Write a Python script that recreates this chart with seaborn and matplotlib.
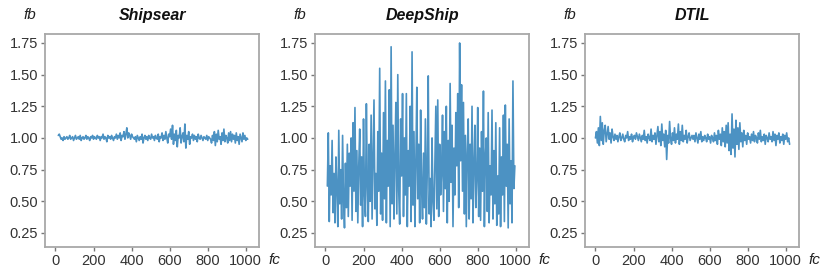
import numpy as np
import pandas as pd
import matplotlib
matplotlib.use('Agg')
import matplotlib.pyplot as plt
import seaborn as sns

## panel titles
titles = ['Shipsear', 'DeepShip', 'DTIL']

## fb values, one list per dataset
shipsear_fb = [
    1.02, 1.03, 1.01, 0.99, 1.00, 0.98, 1.01, 0.99, 1.00, 1.01, 0.99, 1.00, 1.02, 0.99, 1.00, 1.01, 0.98, 1.00, 1.02, 0.99,
    1.00, 1.01, 0.99, 1.02, 0.98, 1.00, 1.01, 0.99, 1.00, 1.02, 0.99, 1.01, 1.00, 0.98, 1.01, 1.00, 1.02, 0.99, 1.01, 1.00,
    0.99, 1.02, 1.00, 1.01, 0.98, 1.01, 1.00, 1.03, 0.99, 1.01, 1.00, 0.97, 1.02, 1.00, 1.01, 0.99, 1.02, 1.00, 0.98, 1.01,
    1.00, 1.03, 0.99, 1.02, 1.00, 1.04, 0.98, 1.02, 1.01, 1.05, 0.99, 1.03, 1.08, 1.00, 1.04, 1.02, 0.99, 1.03, 1.01, 1.00,
    0.99, 1.01, 0.97, 1.02, 1.00, 0.98, 1.01, 0.99, 1.03, 0.96, 1.00, 1.02, 0.99, 1.01, 0.98, 1.02, 1.00, 0.99, 1.03, 1.00,
    1.01, 0.98, 1.02, 1.00, 0.99, 1.03, 0.97, 1.01, 1.00, 1.04, 0.98, 1.02, 0.99, 1.05, 1.00, 0.96, 1.03, 1.01, 1.07, 0.99,
    1.10, 0.95, 1.03, 0.98, 1.06, 0.93, 1.02, 1.00, 1.08, 0.96, 1.01, 1.04, 0.97, 1.11, 0.92, 1.02, 0.99, 1.05, 0.95, 1.01,
    1.00, 1.03, 0.98, 1.02, 0.99, 1.01, 0.97, 1.03, 1.00, 0.99, 1.02, 1.00, 0.98, 1.01, 1.00, 0.99, 1.02, 0.98, 1.01, 1.00,
    0.99, 0.96, 1.02, 0.98, 1.05, 0.94, 1.03, 0.97, 1.06, 0.99, 1.01, 0.95, 1.04, 0.98, 1.07, 0.97, 1.02, 1.00, 0.96, 1.04,
    0.98, 1.05, 0.97, 1.03, 0.99, 1.02, 0.96, 1.04, 0.98, 1.01, 0.95, 1.03, 1.00, 0.97, 1.04, 0.99, 1.02, 0.98, 1.00, 0.99,
]

deepship_fb = [
    0.62, 1.04, 0.34, 0.78, 0.55, 0.98, 0.41, 0.72, 0.33, 0.85, 0.60, 0.30, 1.06, 0.48, 0.75, 0.36, 1.02, 0.52, 0.29, 0.80,
    0.45, 0.95, 0.38, 0.88, 0.62, 1.00, 0.35, 1.12, 0.58, 1.24, 0.42, 0.90, 0.33, 0.78, 1.07, 0.47, 0.85, 0.30, 1.15, 0.55,
    0.38, 1.27, 0.62, 0.34, 0.95, 0.50, 1.18, 0.36, 0.82, 1.30, 0.44, 0.72, 0.31, 1.05, 0.58, 1.55, 0.40, 0.88, 0.35, 1.20,
    0.52, 1.45, 0.33, 0.98, 0.62, 1.38, 0.30, 1.72, 0.48, 1.10, 0.36, 0.85, 1.28, 0.40, 1.50, 0.58, 0.32, 1.15, 0.70, 1.35,
    0.38, 1.00, 0.55, 1.35, 0.30, 0.90, 0.62, 1.25, 0.34, 1.68, 0.47, 1.05, 0.30, 0.80, 1.40, 0.52, 0.95, 0.33, 1.22, 0.60,
    0.36, 0.88, 0.45, 1.15, 0.32, 0.75, 1.49, 0.40, 0.68, 0.30, 1.00, 0.50, 0.35, 0.82, 1.25, 0.44, 1.30, 0.38, 0.95, 0.55,
    0.72, 1.18, 0.42, 1.05, 0.60, 1.25, 0.33, 0.98, 0.50, 1.43, 0.65, 1.10, 0.30, 0.92, 0.55, 1.20, 0.78, 1.35, 0.45, 1.75,
    0.82, 1.42, 0.58, 1.28, 0.40, 1.02, 0.30, 0.88, 1.15, 0.36, 0.95, 0.52, 1.25, 0.33, 0.78, 1.10, 0.45, 0.68, 1.24, 0.38,
    0.92, 0.35, 1.05, 0.58, 1.37, 0.30, 0.85, 1.00, 0.42, 1.20, 0.33, 0.78, 0.55, 1.22, 0.36, 0.90, 0.48, 1.12, 0.31, 0.70,
    0.40, 1.08, 0.30, 0.85, 0.55, 1.18, 0.34, 1.26, 0.62, 0.95, 0.29, 1.15, 0.48, 0.82, 0.33, 1.45, 0.60, 0.78,
]

dtil_fb = [
    1.00, 1.05, 0.96, 1.08, 0.94, 1.17, 0.98, 1.12, 0.95, 1.06, 1.10, 0.97, 1.03, 1.09, 0.99, 1.04, 0.96, 1.07, 1.01, 0.98,
    1.03, 0.99, 1.02, 0.97, 1.01, 1.04, 0.98, 1.00, 1.03, 0.99, 0.97, 1.02, 1.00, 1.05, 0.98, 1.01, 0.99, 1.03, 0.97, 1.01,
    1.02, 0.99, 1.04, 1.01, 0.98, 1.03, 1.00, 0.97, 1.02, 0.99, 1.06, 0.98, 1.01, 0.96, 1.03, 1.00, 0.98, 1.07, 0.97, 1.02,
    0.99, 1.04, 0.95, 1.02, 1.09, 0.97, 1.05, 0.94, 1.11, 0.98, 1.03, 0.93, 1.06, 0.83, 1.02, 0.96, 1.13, 0.99, 0.95, 1.04,
    0.98, 1.08, 0.96, 1.03, 0.99, 1.11, 0.95, 1.05, 0.98, 1.10, 0.97, 1.02, 0.99, 1.06, 0.96, 1.01, 1.04, 0.98, 1.00, 1.02,
    0.99, 1.02, 0.97, 1.04, 1.00, 0.96, 1.03, 0.99, 1.05, 0.97, 1.01, 0.98, 1.02, 1.00, 0.97, 1.03, 0.99, 1.01, 0.96, 1.02,
    1.00, 0.97, 1.04, 0.98, 1.02, 0.95, 1.06, 0.99, 1.03, 0.94, 1.08, 0.97, 1.05, 0.93, 1.10, 0.96, 1.12, 0.90, 1.03, 0.87,
    1.19, 0.92, 1.07, 0.85, 1.14, 0.95, 1.08, 0.91, 1.12, 0.97, 1.04, 0.93, 1.06, 0.98, 1.02, 0.95, 1.04, 0.99, 1.01, 0.96,
    1.03, 0.98, 1.05, 0.97, 1.02, 1.00, 0.96, 1.04, 0.99, 1.06, 0.97, 1.01, 0.98, 1.03, 0.95, 1.02, 1.00, 0.97, 1.04, 0.99,
    1.01, 0.97, 1.05, 0.98, 1.03, 0.94, 1.02, 0.99, 1.04, 0.96, 1.01, 0.98, 1.03, 0.95, 1.02, 0.99, 1.04, 0.97, 1.00, 0.95,
]

## fc range covered by each series
fc_ranges = [(15, 1010), (10, 995), (0, 1020)]

yticks = [0.25, 0.50, 0.75, 1.00, 1.25, 1.50, 1.75]
xticks = [0, 200, 400, 600, 800, 1000]

sns.set_style('white')
plt.rcParams['font.family'] = ['Liberation Sans', 'DejaVu Sans']

fig = plt.figure(figsize=(8.3, 2.72), dpi=100)
lefts = [0.0542, 0.3795, 0.7048]

for i, (title, fb, (lo, hi)) in enumerate(zip(titles, [shipsear_fb, deepship_fb, dtil_fb], fc_ranges)):
    ax = fig.add_axes([lefts[i], 0.092, 0.258, 0.783])
    df = pd.DataFrame({'fc': np.linspace(lo, hi, len(fb)), 'fb': fb})
    sns.lineplot(data=df, x='fc', y='fb', ax=ax, color='#1f77b4',
                 alpha=0.8, linewidth=1.2)
    ax.set_xlim(-55, 1070)
    ax.set_ylim(0.139, 1.821)
    ax.set_xticks(xticks)
    ax.set_yticks(yticks)
    ax.set_yticklabels([f'{v:.2f}' for v in yticks])
    ax.set(xlabel='', ylabel='')
    ax.tick_params(axis='both', direction='out', length=3, width=1,
                   color='#777777', labelcolor='#333333', labelsize=10.5, pad=2)
    ax.tick_params(axis='both', which='both', left=True, bottom=True)
    for s in ax.spines.values():
        s.set_color('#a8a8a8')
        s.set_linewidth(1.3)
    ax.set_title(title, fontsize=11.5, fontweight='bold', fontstyle='italic',
                 color='#111111', pad=10)

    ## axis names placed like the reference
    fig.text((lefts[i] * 830 - 15) / 830, 0.945, 'fb', fontsize=11,
             fontstyle='italic', color='#222222', ha='center', va='center')
    fig.text((lefts[i] * 830 + 229) / 830, 0.045, 'fc', fontsize=11,
             fontstyle='italic', color='#222222', ha='center', va='center')

plt.savefig('out.png', dpi=100)
